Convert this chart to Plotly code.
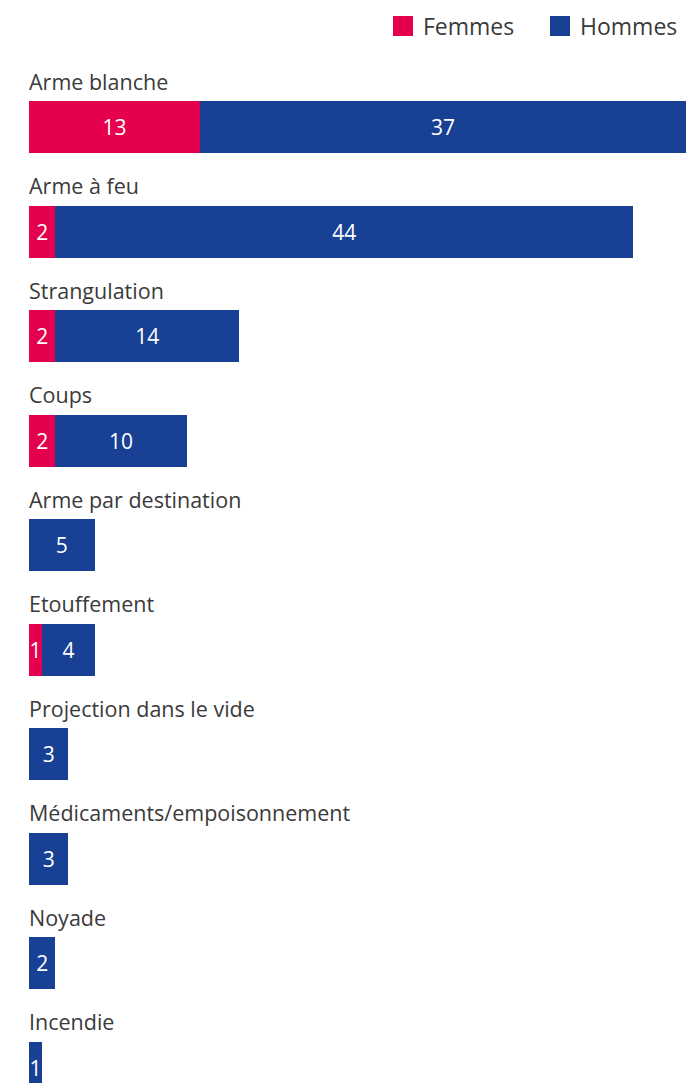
import plotly.graph_objects as go

categories = ["Arme blanche", "Arme à feu", "Strangulation", "Coups",
              "Arme par destination", "Etouffement", "Projection dans le vide",
              "Médicaments/empoisonnement", "Noyade", "Incendie"]
femmes = [13, 2, 2, 2, 0, 1, 0, 0, 0, 0]
hommes = [37, 44, 14, 10, 5, 4, 3, 3, 2, 1]
series_names = ["Femmes", "Hommes"]

PINK = "#E4004E"
BLUE = "#184196"
FONT = "Open Sans"

W, H = 690, 1083
ML, MR, MT, MB = 29, 4, 75, 0
PW, PH = W - ML - MR, H - MT - MB

fem_vals = [v if v else None for v in femmes]
hom_vals = [v if v else None for v in hommes]

fig = go.Figure()
for name, vals, col in [(series_names[0], fem_vals, PINK), (series_names[1], hom_vals, BLUE)]:
    fig.add_trace(go.Bar(
        y=categories, x=vals, orientation="h", name=name,
        marker=dict(color=col, line=dict(width=0)),
        width=0.5,
        text=vals, texttemplate="%{x}", textposition="inside",
        insidetextanchor="middle", textangle=0,
        textfont=dict(color="white", size=21, family=FONT),
        showlegend=False, hoverinfo="skip",
    ))
    fig.add_trace(go.Scatter(
        x=[None], y=[None], mode="markers", name=name,
        marker=dict(symbol="square", size=16, color=col,
                    line=dict(color=col, width=4)),
        showlegend=True, hoverinfo="skip",
    ))

for cat in categories:
    fig.add_annotation(
        x=0, y=cat, xref="x", yref="y", text=cat, showarrow=False,
        xanchor="left", yanchor="middle", yshift=46, xshift=-2,
        font=dict(size=21.5, color="#3a3a3a", family=FONT),
    )

fig.update_layout(
    width=W, height=H,
    margin=dict(l=ML, r=MR, t=MT, b=MB, autoexpand=False),
    barmode="stack",
    plot_bgcolor="white", paper_bgcolor="white",
    font=dict(family=FONT, color="#3a3a3a"),
    uniformtext=dict(minsize=21, mode="show"),
    xaxis=dict(range=[0, 50], visible=False, fixedrange=True),
    yaxis=dict(range=[9.146, -0.5], visible=False, fixedrange=True,
               categoryorder="array", categoryarray=categories),
    legend=dict(orientation="h", xref="paper", yref="paper",
                x=(W + 7 - ML) / PW, xanchor="right",
                y=(H - MB - 26) / PH, yanchor="middle",
                traceorder="normal", entrywidth=112, entrywidthmode="pixels",
                font=dict(size=23, color="#3a3a3a", family=FONT),
                itemsizing="trace", bgcolor="rgba(0,0,0,0)"),
)

fig.write_html(
    "out.html",
    config={"displayModeBar": False},
    post_script="document.body.style.margin='0';document.body.style.overflow='hidden';",
)
